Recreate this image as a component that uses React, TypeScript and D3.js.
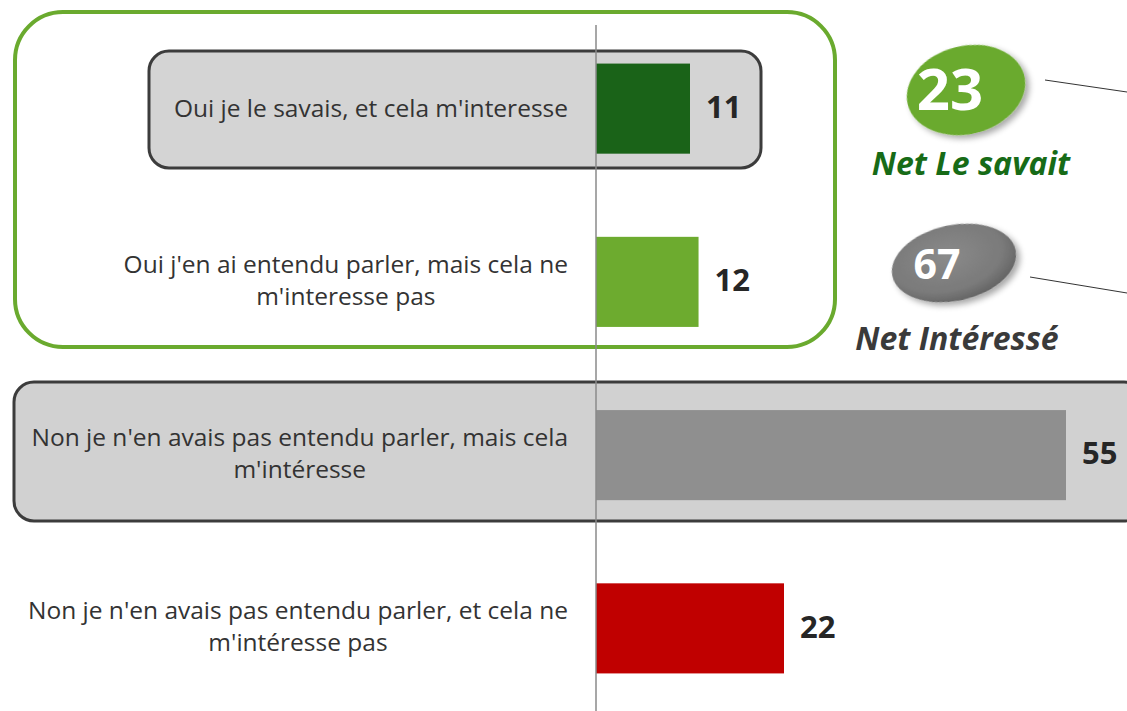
import React from "react";
import * as d3 from "d3";

const categories = [
  ["Oui je le savais, et cela m'interesse"],
  ["Oui j'en ai entendu parler, mais cela ne", "m'interesse pas"],
  ["Non je n'en avais pas entendu parler, mais cela", "m'intéresse"],
  ["Non je n'en avais pas entendu parler, et cela ne", "m'intéresse pas"],
];
const values = [11, 12, 55, 22];
const barColors = ["#1a6318", "#6dab2f", "#8f8f8f", "#c00000"];
const netValues = [23, 67];
const netLabels = ["Net Le savait", "Net Intéressé"];

const W = 1127;
const H = 711;
const FONT = "'Open Sans', sans-serif";
const LABEL_SIZE = 24.5;

function measure(text: string, font: string): number {
  const c = document.createElement("canvas");
  const ctx = c.getContext("2d")!;
  ctx.font = font;
  return ctx.measureText(text).width;
}

export default function App() {
  const x = d3.scaleLinear().domain([0, 55]).range([596, 1066]);
  const y = d3
    .scaleBand<number>()
    .domain(d3.range(values.length))
    .range([22, 715])
    .paddingInner(0.48)
    .paddingOuter(0.24);
  const bh = y.bandwidth();
  const labelRight = 568;

  return (
    <svg
      width={W}
      height={H}
      style={{ position: "absolute", left: 0, top: 0 }}
      viewBox={`0 0 ${W} ${H}`}
    >
      <defs>
        <filter id="sh" x="-30%" y="-30%" width="160%" height="170%">
          <feGaussianBlur in="SourceAlpha" stdDeviation="3" />
          <feOffset dx="3" dy="4" result="b" />
          <feComponentTransfer>
            <feFuncA type="linear" slope="0.35" />
          </feComponentTransfer>
          <feMerge>
            <feMergeNode />
            <feMergeNode in="SourceGraphic" />
          </feMerge>
        </filter>
        <radialGradient id="gg" cx="45%" cy="40%" r="65%">
          <stop offset="0%" stopColor="#8a8a8a" />
          <stop offset="70%" stopColor="#7a7a7a" />
          <stop offset="100%" stopColor="#5e5e5e" />
        </radialGradient>
      </defs>
      <rect width={W} height={H} fill="#fff" />
      {/* group boxes */}
      <rect x={15} y={12} width={820} height={335} rx={48} fill="none" stroke="#6aaa2e" strokeWidth={4} />
      <rect x={149} y={51} width={612} height={117} rx={20} fill="#d4d4d4" stroke="#3c3c3c" strokeWidth={3} />
      <rect x={14} y={382} width={1130} height={139} rx={20} fill="#d1d1d1" stroke="#3c3c3c" strokeWidth={3} />

      {/* bars */}
      {values.map((v, i) => {
        const lines = categories[i];
        const cy = y(i)! + bh / 2;
        const maxW = d3.max(lines, (l) => measure(l, `${LABEL_SIZE}px 'Open Sans'`))!;
        const cx = labelRight - maxW / 2;
        return (
          <g key={i}>
            <rect x={x(0)} y={y(i)!} width={x(v) - x(0)} height={bh} fill={barColors[i]} />
            <text
              x={x(v) + 16}
              y={cy + 1}
              dominantBaseline="middle"
              fontFamily={FONT}
              fontWeight="bold"
              fontSize={31}
              fill="#262626"
            >
              {v}
            </text>
            <text textAnchor="middle" fontFamily={FONT} fontSize={LABEL_SIZE} fill="#333">
              {lines.map((line, j) => (
                <tspan
                  key={j}
                  x={cx}
                  y={lines.length === 1 ? cy + 8 : cy - 9 + j * 32}
                >
                  {line}
                </tspan>
              ))}
            </text>
          </g>
        );
      })}
      <line x1={596} x2={596} y1={25} y2={H} stroke="#8a8a8a" strokeWidth={1.5} />

      {/* net bubbles */}
      <line x1={1045} y1={80} x2={1127} y2={92} stroke="#333" strokeWidth={1} />
      <ellipse cx={966} cy={90} rx={60} ry={44} fill="#6aaa2e" filter="url(#sh)" transform="rotate(-14 966 90)" />
      <text x={950} y={94} textAnchor="middle" dominantBaseline="middle" fontFamily={FONT} fontWeight="bold" fontSize={58} fill="#fff">
        {netValues[0]}
      </text>
      <text x={971} y={175} textAnchor="middle" fontFamily={FONT} fontWeight="bold" fontStyle="italic" fontSize={32} fill="#176b17">
        {netLabels[0]}
      </text>

      <line x1={1030} y1={277} x2={1127} y2={293} stroke="#333" strokeWidth={1} />
      <ellipse cx={954} cy={263} rx={63} ry={38} fill="url(#gg)" filter="url(#sh)" transform="rotate(-12 954 263)" />
      <text x={937} y={268} textAnchor="middle" dominantBaseline="middle" fontFamily={FONT} fontWeight="bold" fontSize={41} fill="#fff">
        {netValues[1]}
      </text>
      <text x={957} y={350} textAnchor="middle" fontFamily={FONT} fontWeight="bold" fontStyle="italic" fontSize={32} fill="#3a3a3a">
        {netLabels[1]}
      </text>
    </svg>
  );
}
